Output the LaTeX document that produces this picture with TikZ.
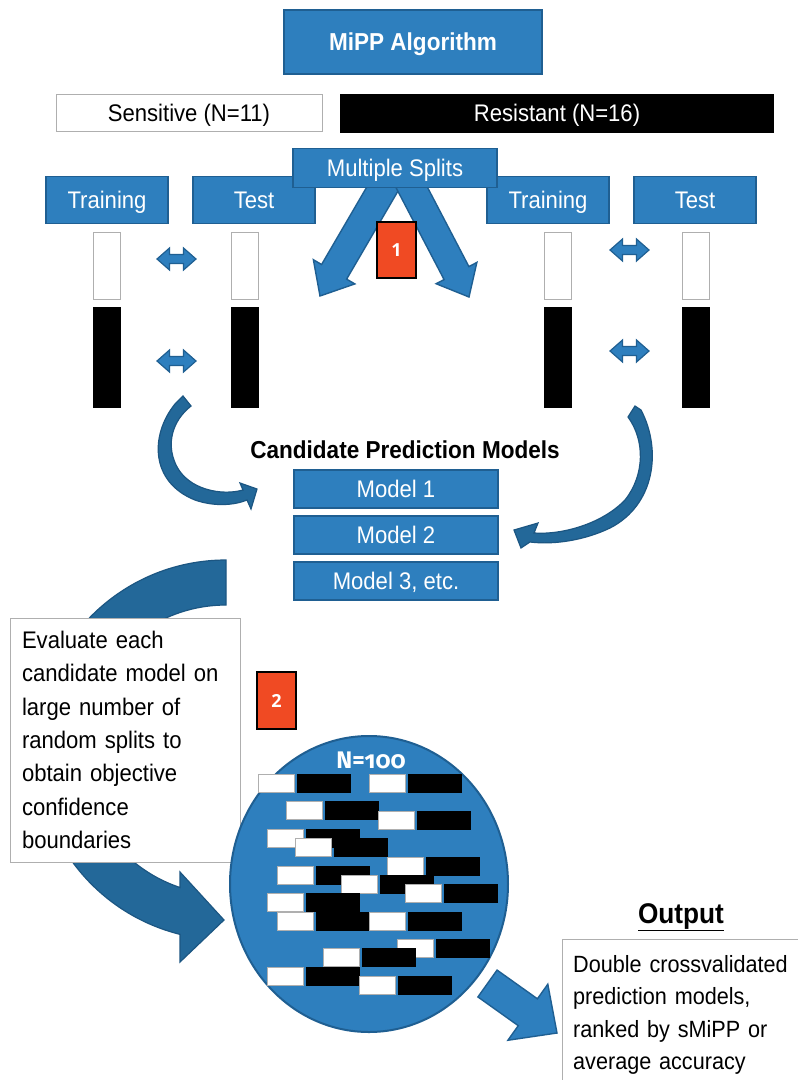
\documentclass[tikz,border=0pt]{standalone}
\usepackage{fontspec}
\setmainfont{Liberation Sans}[FakeStretch=0.92]
\newfontfamily\countfont{Fira Sans}[Numbers=OldStyle]
\newfontfamily\badgefont{Open Sans}
\usetikzlibrary{calc,shapes.geometric}

\definecolor{bluefill}{RGB}{46,127,190}
\definecolor{blueline}{RGB}{31,95,146}
\definecolor{curvefill}{RGB}{35,104,153}
\definecolor{curveline}{RGB}{28,86,130}
\definecolor{badgered}{RGB}{240,74,35}
\definecolor{greyline}{RGB}{175,175,175}

% straight block arrow: start, tip, shaft half width, head half width, head length, style
\newcommand\blockarrow[6]{%
  \coordinate (ba-base) at ($(#2)!#5!(#1)$);
  \draw[#6] ($(#1)!#3!90:(#2)$) -- ($(ba-base)!#3!90:(#2)$)
    -- ($(ba-base)!#4!90:(#2)$) -- (#2)
    -- ($(ba-base)!#4!-90:(#2)$) -- ($(ba-base)!#3!-90:(#2)$)
    -- ($(#1)!#3!-90:(#2)$) -- cycle;}

\begin{document}
\begin{tikzpicture}[x=1pt,y=-1pt,
  font=\fontsize{24}{28}\selectfont,
  bluebox/.style={draw=blueline, fill=bluefill, line width=1.6pt, text=white,
    inner sep=0pt, text height=17pt, text depth=0pt},
  blockfill/.style={draw=blueline, fill=bluefill, line width=1.4pt, line join=miter},
  curvefill/.style={draw=curveline, fill=curvefill, line width=1.2pt},
  badgebox/.style={draw=black, fill=badgered, line width=1.8pt, text=white,
    inner sep=0pt, font=\badgefont\bfseries\fontsize{18}{20}\selectfont},
  whitebar/.style={draw=greyline, fill=white, line width=0.9pt},
  notebox/.style={draw=greyline, fill=white, line width=1pt},
  swap arrow/.pic={\draw[blockfill, line width=1.2pt] (-19.5,0) -- (-7,-11) -- (-7,-4.5)
    -- (7,-4.5) -- (7,-11) -- (19.5,0) -- (7,11) -- (7,4.5) -- (-7,4.5)
    -- (-7,11) -- cycle;}]

\useasboundingbox (0,0) rectangle (798,1080);
\fill[white] (0,0) rectangle (798,1080);

% ---- header ----
\node[bluebox, minimum width=258pt, minimum height=64pt,
  font=\bfseries\fontsize{24.5}{28}\selectfont] (title) at (413,42) {MiPP Algorithm};
\node[draw=greyline, fill=white, line width=1pt, minimum width=266pt, minimum height=37pt,
  inner sep=0pt, text height=17pt, text depth=0pt] (sens) at (189,113) {Sensitive (N=11)};
\node[fill=black, text=white, minimum width=434pt, minimum height=39pt,
  inner sep=0pt, text height=17pt, text depth=0pt] (res) at (557,113) {Resistant (N=16)};

% ---- training / test split ----
\node[bluebox, minimum width=122pt, minimum height=47pt] (trainA) at (107,200) {Training};
\node[bluebox, minimum width=122pt, minimum height=47pt] (testA) at (254,200) {Test};
\node[bluebox, minimum width=122pt, minimum height=47pt] (trainB) at (548,200) {Training};
\node[bluebox, minimum width=122pt, minimum height=47pt] (testB) at (695,200) {Test};

\coordinate (splitL) at (396.4,165);
\coordinate (splitR) at (400,165);
\coordinate (tipL) at (320,296);
\coordinate (tipR) at (469,297);
\blockarrow{splitL}{tipL}{14.5pt}{24pt}{28pt}{blockfill}
\blockarrow{splitR}{tipR}{14pt}{23pt}{27pt}{blockfill}

\node[bluebox, minimum width=204pt, minimum height=39pt] (splits) at (395,168) {Multiple Splits};
\node[badgebox, minimum width=39pt, minimum height=56pt] (badgeA) at (396.5,250) {1};

% sample bars
\node[whitebar, minimum width=27pt, minimum height=67pt] (wA) at (107,266) {};
\node[fill=black, minimum width=28pt, minimum height=101pt] (kA) at (107,357) {};
\node[whitebar, minimum width=27pt, minimum height=67pt] (wB) at (245,266) {};
\node[fill=black, minimum width=28pt, minimum height=101pt] (kB) at (245,357) {};
\node[whitebar, minimum width=27pt, minimum height=67pt] (wC) at (558,266) {};
\node[fill=black, minimum width=28pt, minimum height=101pt] (kC) at (558,357) {};
\node[whitebar, minimum width=27pt, minimum height=67pt] (wD) at (696,266) {};
\node[fill=black, minimum width=28pt, minimum height=101pt] (kD) at (696,357) {};

\pic at (176.5,259) {swap arrow};
\pic at (176.5,361) {swap arrow};
\pic at (629.5,250) {swap arrow};
\pic at (629.5,351) {swap arrow};

% ---- candidate models ----
\node (cand) at (405,450) {\bfseries\fontsize{24.5}{28}\selectfont Candidate Prediction Models};
\node[bluebox, minimum width=204pt, minimum height=38pt] (mA) at (396,489) {Model 1};
\node[bluebox, minimum width=204pt, minimum height=38pt] (mB) at (396,535) {Model 2};
\node[bluebox, minimum width=204pt, minimum height=38pt] (mC) at (396,581) {Model 3, etc.};

% curved arrows into the model list
\draw[curvefill] (183,396) -- (175,404)
  .. controls (150,435) and (150,482) .. (195,500)
  .. controls (215,507) and (235,505) .. (247,500)
  -- (251,509) -- (257,489) -- (240,483) -- (243,490)
  .. controls (222,496) and (188,490) .. (176,465)
  .. controls (166,444) and (172,421) .. (191,406) -- cycle;
\draw[curvefill] (635,406) -- (641,410)
  .. controls (662,450) and (655,505) .. (610,528)
  .. controls (585,540) and (555,545) .. (530,542)
  -- (521,548) -- (514,530) -- (538,523) -- (534,533)
  .. controls (562,535) and (602,524) .. (625,500)
  .. controls (645,475) and (645,440) .. (628,417) -- cycle;

% ---- evaluation loop ----
\draw[curvefill] (226,560) arc[start angle=270, end angle=104, radius=190]
  -- (180,962) -- (224,920) -- (180,872) -- (180,887.5)
  arc[start angle=108.5, end angle=270, radius=145] -- cycle;

\node[notebox, minimum width=230pt, minimum height=244pt, text width=206pt,
  inner xsep=12pt, align=left, font=\fontsize{24}{33.3}\selectfont] (eval) at (125,740)
  {Evaluate each\\candidate model on\\large number of\\random splits to\\obtain objective\\confidence\\boundaries};

\node[badgebox, minimum width=39pt, minimum height=57pt] (badgeB) at (276.5,700.5) {2};

\node[ellipse, draw=blueline, fill=bluefill, line width=2pt, minimum width=278pt,
  minimum height=296pt, inner sep=0pt] (pool) at (369,884) {};
\node[anchor=base, text=white, font=\countfont\bfseries\fontsize{24}{26}\selectfont]
  (count) at (371,768) {N=100};
\foreach \x/\y in {258/774, 369/774, 286/801, 378/811, 267/829, 295/838, 387/857,
    277/866, 341/875, 405/884, 267/893, 277/912, 369/912, 397/939, 323/948,
    267/967, 359/976} {
  \draw[whitebar] (\x,\y) rectangle ++(36,18.5);
  \fill[black] (\x+39,\y) rectangle ++(54,18.5);
}

% ---- output ----
\coordinate (outS) at (487.5,983.5);
\coordinate (outT) at (557,1033);
\blockarrow{outS}{outT}{16.5pt}{34.4pt}{35.8pt}{blockfill}

\node[anchor=base, font=\bfseries\fontsize{28.5}{30}\selectfont] (outlabel) at (681,923) {\underline{Output}};
\node[notebox, anchor=north west, minimum width=236pt, minimum height=160pt] (outbox) at (562,939) {};
\node[anchor=north west, align=left, inner sep=0pt, text width=230pt,
  font=\fontsize{23.5}{32.4}\selectfont] (outtext) at (573,955)
  {Double crossvalidated\\prediction models,\\ranked by sMiPP or\\average accuracy};

\end{tikzpicture}
\end{document}
